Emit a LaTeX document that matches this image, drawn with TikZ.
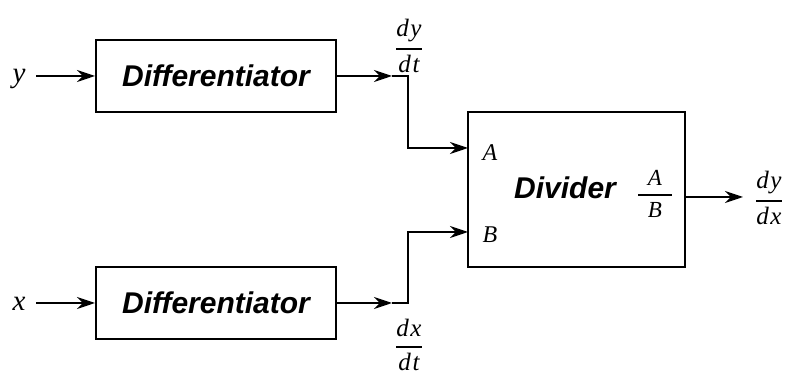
\documentclass[tikz,border=0pt]{standalone}
\usepackage{amsmath}
\usepackage{fontspec}
\setmainfont{Liberation Serif}
\newfontfamily\hv{Liberation Sans}
\usetikzlibrary{arrows.meta}
\newcommand{\myfr}[2]{$\genfrac{}{}{0.95pt}{0}{\textit{#1}}{\textit{#2}}$}
\newcommand{\myfrw}[3]{$\genfrac{}{}{0.95pt}{0}{\makebox[#1][c]{\textit{#2}}}{\makebox[#1][c]{\textit{#3}}}$}
\begin{document}
\begin{tikzpicture}[x=0.5pt,y=-0.5pt, line width=1pt,
  blk/.style={draw, line width=1pt, minimum width=120pt, minimum height=36pt, inner sep=0pt,
    font=\hv\bfseries\itshape\fontsize{15}{18}\selectfont},
  arr/.style={-{Stealth[length=9pt,width=6pt,inset=3pt]}},
  lab/.style={font=\fontsize{12}{14}\selectfont, inner sep=0pt},
  frlab/.style={font=\fontsize{12.5}{15}\selectfont, inner sep=0pt},
  inlab/.style={font=\fontsize{14.5}{17}\selectfont, inner sep=0pt}]
\useasboundingbox (0,0) rectangle (793,373);
% blocks
\node[blk] (d1) at (216,76) {Differentiator};
\node[blk] (d2) at (216,303) {Differentiator};
\node[draw, line width=1pt, minimum width=108.5pt, minimum height=77.5pt, inner sep=0pt] (dv) at (576.5,189.5) {};
\node[font=\hv\bfseries\itshape\fontsize{15}{18}\selectfont, inner sep=0pt] (dvt) at (565,188) {Divider};
% inputs
\node[inlab] (y) at (19,79) {\textit{y}};
\node[inlab] (x) at (19,304) {\textit{x}};
\coordinate (yin) at (36,76);
\coordinate (xin) at (36,303);
\draw[arr] (yin) -- (d1.west);
\draw[arr] (xin) -- (d2.west);
% internal routing
\coordinate (t1) at (392,76);
\coordinate (k1) at (408,76);
\coordinate (t2) at (392,303);
\coordinate (k2) at (408,303);
\coordinate (ain) at (468,148);
\coordinate (bin) at (468,232);
\draw[arr] (d1.east) -- (t1);
\draw[arr] (t1) -- (k1) |- (ain);
\draw[arr] (d2.east) -- (t2);
\draw[arr] (t2) -- (k2) |- (bin);
% output
\coordinate (o) at (743,197);
\draw[arr] (dv.east |- o) -- (o);
% labels
\node[lab] (la) at (490,153) {\textit{A}};
\node[lab] (lb) at (490,235) {\textit{B}};
\node[font=\fontsize{11.5}{14}\selectfont, inner sep=0pt] (fab) at (655,194) {\myfrw{17pt}{A}{B}};
\node[frlab] (fdydx) at (769,198) {\myfr{d\kern0.8pt y}{d\kern0.8pt x}};
\node[frlab] (fdydt) at (409,46) {\myfr{d\kern0.8pt y}{d\kern0.8pt t}};
\node[frlab] (fdxdt) at (409,345) {\myfr{d\kern0.8pt x}{d\kern0.8pt t}};
\end{tikzpicture}
\end{document}
